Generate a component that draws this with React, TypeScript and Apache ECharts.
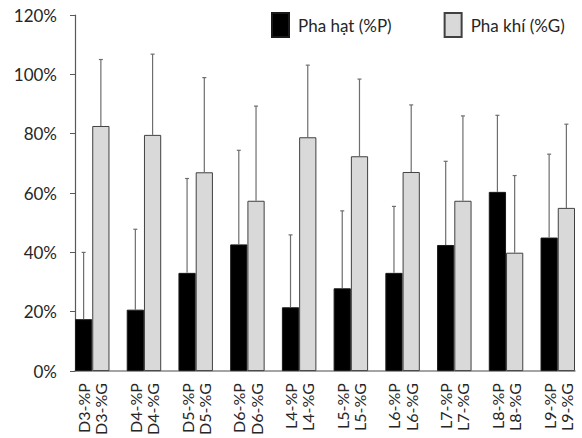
import React, { useEffect, useRef } from "react";
import * as echarts from "echarts";

const groups = ["D3", "D4", "D5", "D6", "L4", "L5", "L6", "L7", "L8", "L9"];
const particleMean = [17.5, 20.7, 33.1, 42.7, 21.5, 27.9, 33.1, 42.5, 60.4, 45.0];
const particleSd = [22.5, 27.1, 31.8, 31.7, 24.4, 26.1, 22.4, 28.2, 25.8, 28.1];
const gasMean = [82.6, 79.6, 67.0, 57.4, 78.8, 72.4, 67.1, 57.4, 39.9, 55.0];
const gasSd = [22.4, 27.2, 31.9, 31.9, 24.3, 26.0, 22.6, 28.6, 26.0, 28.2];
const seriesNames = ["Pha hạt (%P)", "Pha khí (%G)"];
const yTicks = { min: 0, max: 120, interval: 20 };

const FONT = "Lato";
const TEXT = "#262626";

export default function App() {
  const ref = useRef<HTMLDivElement>(null);
  useEffect(() => {
    if (!ref.current) return;
    const chart = echarts.init(ref.current, null, { renderer: "svg" });

    // 3 slots per group (P, G, gap), last gap dropped
    const slots: string[] = [];
    groups.forEach((g, i) => {
      slots.push(`${g}-%P`, `${g}-%G`);
      if (i < groups.length - 1) slots.push("");
    });
    const pData = slots.map(() => "-" as any);
    const gData = slots.map(() => "-" as any);
    const pErr: number[][] = [];
    const gErr: number[][] = [];
    groups.forEach((g, i) => {
      pData[i * 3] = particleMean[i];
      gData[i * 3 + 1] = gasMean[i];
      pErr.push([i * 3, particleMean[i], particleMean[i] + particleSd[i]]);
      gErr.push([i * 3 + 1, gasMean[i], gasMean[i] + gasSd[i]]);
    });

    const errRender = (params: any, api: any) => {
      const x = api.value(0);
      const p0 = api.coord([x, api.value(1)]);
      const p1 = api.coord([x, api.value(2)]);
      const cap = 2;
      const style = { stroke: "#6e6e6e", lineWidth: 1.2 };
      return {
        type: "group",
        children: [
          { type: "line", shape: { x1: p0[0], y1: p0[1], x2: p1[0], y2: p1[1] }, style },
          { type: "line", shape: { x1: p1[0] - cap, y1: p1[1], x2: p1[0] + cap, y2: p1[1] }, style },
        ],
      };
    };

    chart.setOption({
      animation: false,
      textStyle: { fontFamily: FONT, color: TEXT },
      legend: {
        left: 271,
        top: 12,
        padding: 0,
        itemWidth: 17,
        itemHeight: 24,
        itemGap: 52,
        icon: "rect",
        data: seriesNames,
        textStyle: { fontFamily: FONT, fontSize: 17, color: TEXT, padding: [0, 0, 0, 4] },
      },
      grid: { left: 75, right: 7, top: 15, bottom: 65 },
      xAxis: {
        type: "category",
        data: slots,
        boundaryGap: true,
        axisLine: { lineStyle: { color: "#868686", width: 1.5 } },
        axisTick: { interval: 0, length: 5, lineStyle: { color: "#868686" } },
        axisLabel: {
          interval: 0,
          rotate: 90,
          margin: 12,
          fontFamily: FONT,
          fontSize: 16,
          color: TEXT,
        },
      },
      yAxis: {
        type: "value",
        min: yTicks.min,
        max: yTicks.max,
        interval: yTicks.interval,
        splitLine: { show: false },
        axisLine: { show: true, lineStyle: { color: "#595959", width: 1.2 } },
        axisTick: { show: true, length: 5, lineStyle: { color: "#595959" } },
        axisLabel: {
          formatter: "{value}%",
          margin: 18,
          fontFamily: FONT,
          fontSize: 17,
          color: TEXT,
        },
      },
      series: [
        {
          name: seriesNames[0],
          type: "bar",
          data: pData,
          barWidth: "100%",
          barGap: "-100%",
          itemStyle: { color: "#000000", borderColor: "#1a1a1a", borderWidth: 1 },
        },
        {
          name: seriesNames[1],
          type: "bar",
          data: gData,
          barWidth: "100%",
          barGap: "-100%",
          itemStyle: { color: "#d9d9d9", borderColor: "#404040", borderWidth: 1 },
        },
        {
          type: "custom",
          renderItem: errRender,
          data: pErr,
          encode: { x: 0, y: [1, 2] },
          z: 3,
        },
        {
          type: "custom",
          renderItem: errRender,
          data: gErr,
          encode: { x: 0, y: [1, 2] },
          z: 3,
        },
      ],
    });
    return () => chart.dispose();
  }, []);
  return (
    <div
      ref={ref}
      style={{ position: "fixed", left: 0, top: 0, width: 582, height: 438, background: "#fff" }}
    />
  );
}
